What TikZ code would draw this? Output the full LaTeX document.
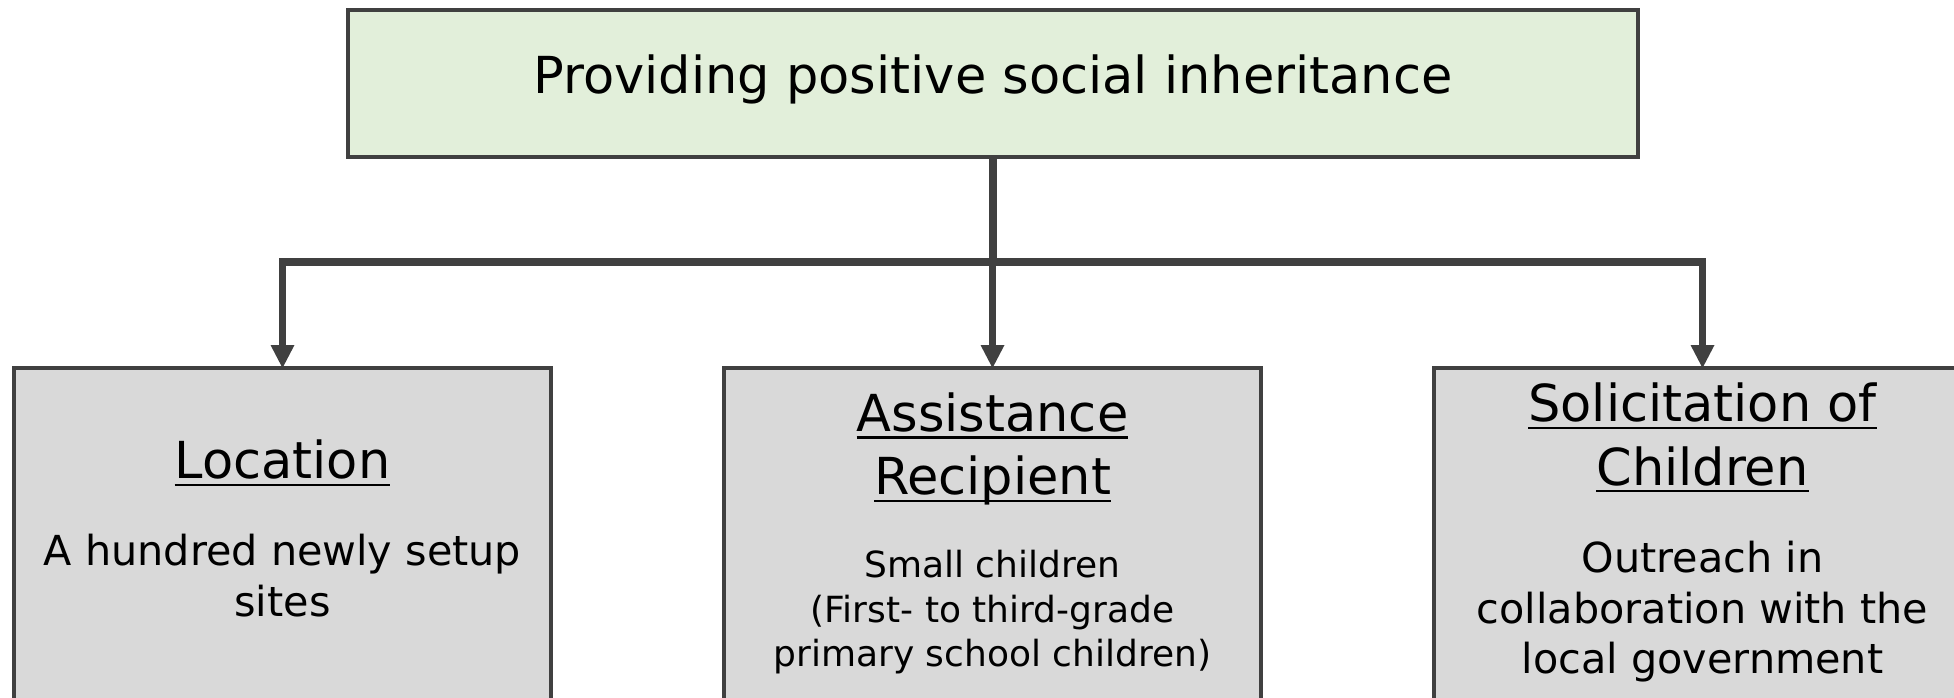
\documentclass[tikz,border=0pt]{standalone}
\usepackage{fontspec}
\setmainfont{DejaVu Sans}
\usepackage{tikz}
\usepackage{xcolor}
\usetikzlibrary{arrows.meta}
\tikzset{every picture/.style={line width=0.75pt}}

\definecolor{darkline}{RGB}{64,64,64}
\definecolor{goalfill}{RGB}{226,239,218}
\definecolor{itemfill}{RGB}{217,217,217}

% underline with a fixed rule just under the baseline
\newcommand{\undertext}[1]{\setbox0\hbox{#1}\rlap{\rule[-5.5pt]{\wd0}{1.8pt}}\box0}

\tikzset{
  goalbox/.style={draw=darkline, fill=goalfill, line width=3pt, inner sep=0pt, outer sep=0pt,
    minimum width=967.5pt, minimum height=110.25pt, font=\fontsize{38.25}{46}\selectfont},
  itembox/.style={draw=darkline, fill=itemfill, line width=3pt, inner sep=0pt, outer sep=0pt,
    minimum width=402.75pt, minimum height=270pt, anchor=north west},
  headtext/.style={anchor=north, inner sep=0pt, align=center, font=\fontsize{38.25}{47.5}\selectfont},
  bodytext/.style={anchor=north, inner sep=0pt, align=center, font=\fontsize{31}{38}\selectfont},
  smalltext/.style={anchor=north, inner sep=0pt, align=center, font=\fontsize{27}{33.4}\selectfont},
  link/.style={draw=darkline, line width=5.8pt, line join=miter},
  linkhead/.style={arrows={-Triangle[length=17.25pt,width=18pt,line width=0pt]}},
  linkheads/.style={arrows={Triangle[length=17.25pt,width=18pt,line width=0pt]-Triangle[length=17.25pt,width=18pt,line width=0pt]}}
}

\begin{document}
\begin{tikzpicture}[x=0.75pt,y=0.75pt,yscale=-1,xscale=1]
\clip (0,0) rectangle (1954,698);

%Shape: Rectangle
\node [goalbox, text depth=0pt, text height=0pt] (goal) at (993,83.5) {};
%Shape: Rectangle
\node [itembox] (loc) at (14,368) {};
%Shape: Rectangle
\node [itembox] (recip) at (724,368) {};
%Shape: Rectangle
\node [itembox] (solic) at (1434,368) {};

\coordinate (split) at (993,262);

%Straight Lines
\draw [link, line width=6.6pt] (goal.south) -- (split);
%Straight Lines
\draw [link, linkheads] (loc.north) -- (loc.north |- split) -- (solic.north |- split) -- (solic.north);
%Straight Lines
\draw [link, linkhead] (split -| recip.north) -- (recip.north);

% Text Node
\node [headtext] (goal-text) at (993,54.5) {Providing positive social inheritance};
% Text Node
\node [headtext] (loc-head) at (282.5,439.5) {\undertext{Location}};
% Text Node
\node [bodytext] (loc-text) at (282.5,534) {A hundred newly setup\\sites};
% Text Node
\node [headtext] (recip-head) at (992.5,392) {\undertext{Assistance}\\\undertext{Recipient}};
% Text Node
\node [smalltext] (recip-text) at (992.5,550) {Small children\\(First- to third-grade\\primary school children)};
% Text Node
\node [headtext] (solic-head) at (1702.5,382.5) {\undertext{Solicitation of}\\\undertext{Children}};
% Text Node
\node [bodytext] (solic-text) at (1702.5,540.5) {Outreach in\\collaboration with the\\local government};
\end{tikzpicture}
\end{document}
